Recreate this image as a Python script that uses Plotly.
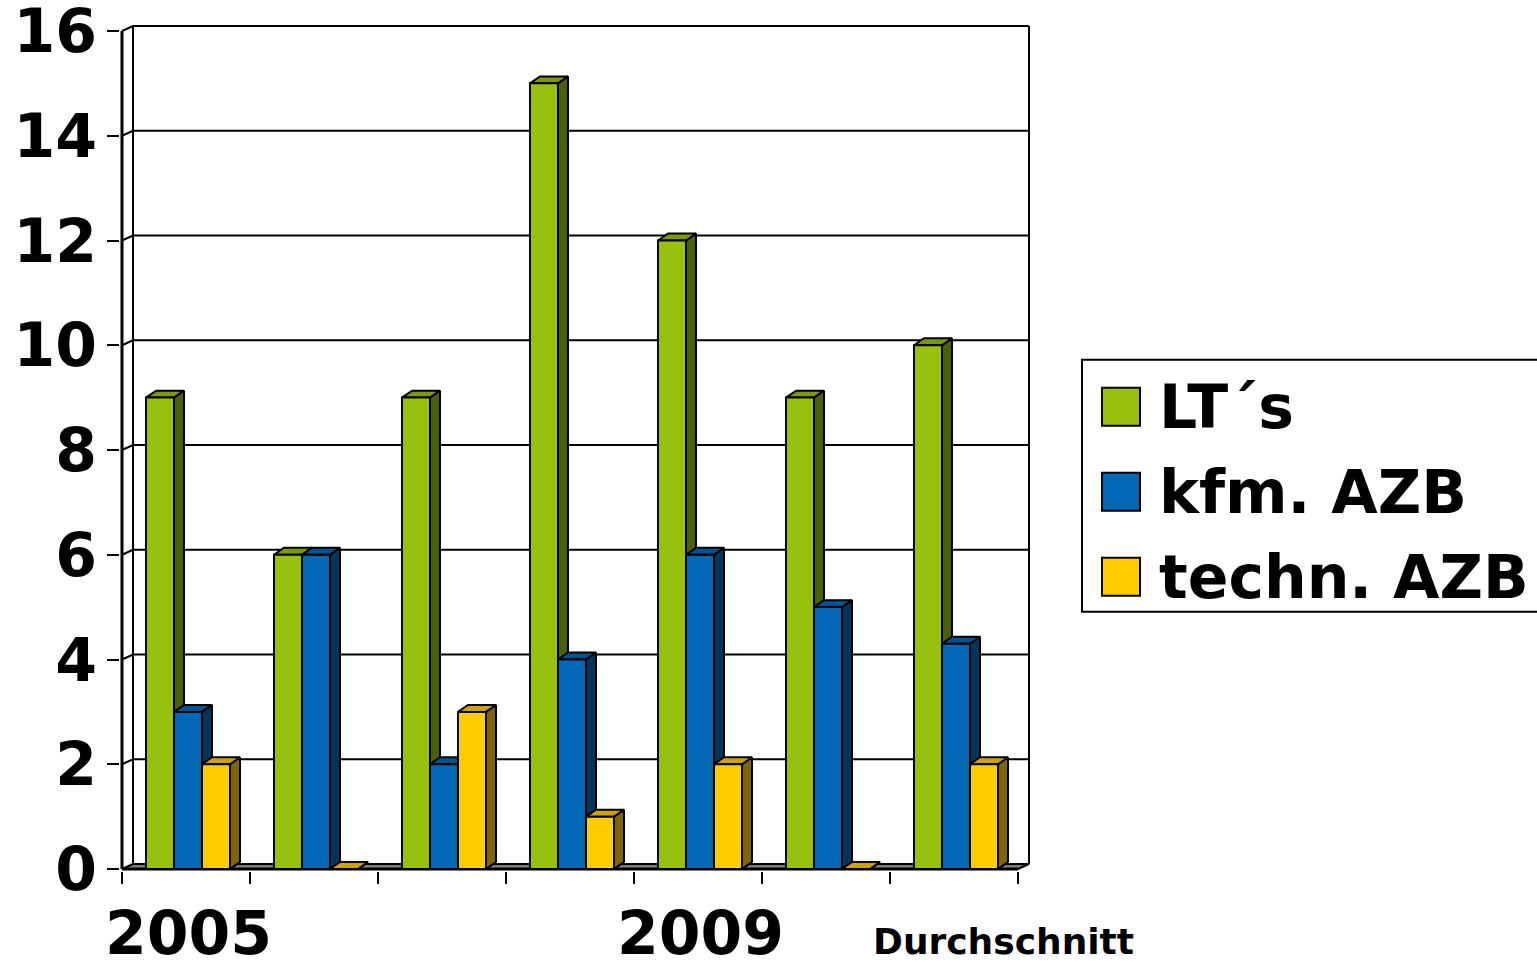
import plotly.graph_objects as go

# data
x_labels = ["2005", "", "", "", "2009", "", "Durchschnitt"]
series_names = ["LT´s", "kfm. AZB", "techn. AZB"]
lts = [9, 6, 9, 15, 12, 9, 10]
kfm_azb = [3, 6, 2, 4, 6, 5, 4.3]
techn_azb = [2, 0, 3, 1, 2, 0, 2]
y_ticks = [0, 2, 4, 6, 8, 10, 12, 14, 16]

series_values = [lts, kfm_azb, techn_azb]
face_colors = ["#99C00F", "#0068B4", "#FFCC00"]
side_colors = ["#4C600A", "#003459", "#806600"]
top_colors = ["#7A9A0C", "#00538F", "#CCA300"]

FONT = "DejaVu Sans"

# pixel scale of the axes (used to fake the 3D depth)
PXX = 128.0
PXY = 52.4
BAR_W = 28 / PXX
BAR_DX, BAR_DY = 10 / PXX, 7 / PXY
WALL_DX, WALL_DY = 11 / PXX, 5 / PXY

n = len(lts)
y_max = y_ticks[-1]
x_range = [-0.5 - 2 / PXX, n - 0.5 + 14 / PXX]
y_range = [-2 / PXY, y_max + 7 / PXY]
plot_w = (x_range[1] - x_range[0]) * PXX
plot_h = (y_range[1] - y_range[0]) * PXY
m_l, m_t = 120, 24
m_r = 1537 - m_l - plot_w
m_b = 964 - m_t - plot_h


def px_x(px):
    return (px - m_l) / plot_w


def px_y(py):
    return (m_t + plot_h - py) / plot_h


fig = go.Figure()

# floor
xl, xr = -0.5, n - 0.5
fig.add_trace(go.Scatter(
    x=[xl, xr, xr + WALL_DX, xl + WALL_DX, xl],
    y=[0, 0, WALL_DY, WALL_DY, 0],
    fill="toself", fillcolor="#808080", mode="lines",
    line=dict(color="black", width=2), hoverinfo="skip", showlegend=False,
))

# back wall and gridlines
wx, wy = [], []
wx += [xl + WALL_DX, xl + WALL_DX, None, xr + WALL_DX, xr + WALL_DX, None]
wy += [WALL_DY, y_max + WALL_DY, None, WALL_DY, y_max + WALL_DY, None]
for v in y_ticks[1:]:
    wx += [xl, xl + WALL_DX, xr + WALL_DX, None]
    wy += [v, v + WALL_DY, v + WALL_DY, None]
fig.add_trace(go.Scatter(
    x=wx, y=wy, mode="lines", line=dict(color="black", width=2),
    hoverinfo="skip", showlegend=False,
))

# front axis lines
fig.add_trace(go.Scatter(
    x=[xl, xl, None, xl, xr], y=[y_max, 0, None, 0, 0], mode="lines",
    line=dict(color="black", width=3), hoverinfo="skip", showlegend=False,
))

# bars: side, top, front for each series
for j, values in enumerate(series_values):
    fx, fy, sx, sy, tx, ty = [], [], [], [], [], []
    for i, v in enumerate(values):
        x0 = i - 1.5 * BAR_W + j * BAR_W + 2 / PXX
        x1 = x0 + BAR_W
        fx += [x0, x1, x1, x0, x0, None]
        fy += [0, 0, v, v, 0, None]
        sx += [x1, x1 + BAR_DX, x1 + BAR_DX, x1, x1, None]
        sy += [0, BAR_DY, v + BAR_DY, v, 0, None]
        tx += [x0, x1, x1 + BAR_DX, x0 + BAR_DX, x0, None]
        ty += [v, v, v + BAR_DY, v + BAR_DY, v, None]
    for px_, py_, col in [(sx, sy, side_colors[j]), (tx, ty, top_colors[j]),
                          (fx, fy, face_colors[j])]:
        fig.add_trace(go.Scatter(
            x=px_, y=py_, fill="toself", fillcolor=col, mode="lines",
            line=dict(color="black", width=2), hoverinfo="skip",
            showlegend=False,
        ))

# category labels
for i, lab in enumerate(x_labels):
    if not lab:
        continue
    small = lab == "Durchschnitt"
    fig.add_annotation(
        x=i, y=px_y(942 if small else 933), xref="x", yref="paper",
        text=f"<b>{lab}</b>", showarrow=False, xanchor="center", yanchor="middle",
        xshift=49 if small else 2,
        font=dict(family=FONT, size=36 if small else 60, color="black"),
    )

# legend box
fig.add_shape(type="rect", xref="paper", yref="paper",
              x0=px_x(1082), x1=px_x(1545), y0=px_y(612), y1=px_y(360),
              line=dict(color="black", width=2), fillcolor="white")
for k, name in enumerate(series_names):
    cy = 407 + 85 * k
    fig.add_shape(type="rect", xref="paper", yref="paper",
                  x0=px_x(1102), x1=px_x(1140), y0=px_y(cy + 19), y1=px_y(cy - 19),
                  line=dict(color="black", width=2), fillcolor=face_colors[k])
    fig.add_annotation(
        x=px_x(1157), y=px_y(cy), xref="paper", yref="paper",
        text=f"<b>{name}</b>", showarrow=False, xanchor="left", yanchor="middle",
        font=dict(family=FONT, size=60, color="black"),
    )

fig.update_layout(
    template="none",
    width=1537, height=964,
    margin=dict(l=m_l, r=m_r, t=m_t, b=m_b, autoexpand=False),
    paper_bgcolor="white", plot_bgcolor="white",
    showlegend=False,
    xaxis=dict(
        range=x_range, showgrid=False, zeroline=False, showline=False,
        tickmode="array", tickvals=[i - 0.5 for i in range(n + 1)],
        ticks="outside", ticklen=12, tickwidth=2, tickcolor="black",
        showticklabels=False, fixedrange=True,
    ),
    yaxis=dict(
        range=y_range, showgrid=False, zeroline=False, showline=False,
        tickmode="array", tickvals=y_ticks, ticktext=[f"<b>{t}</b>" for t in y_ticks],
        ticks="outside", ticklen=12, tickwidth=2, tickcolor="black",
        ticklabelstandoff=-2, ticklabeloverflow="allow",
        tickfont=dict(family=FONT, size=60, color="black"), fixedrange=True,
    ),
)

fig.write_html("out.html", config={"displayModeBar": False},
               post_script="document.body.style.margin='0px';")
